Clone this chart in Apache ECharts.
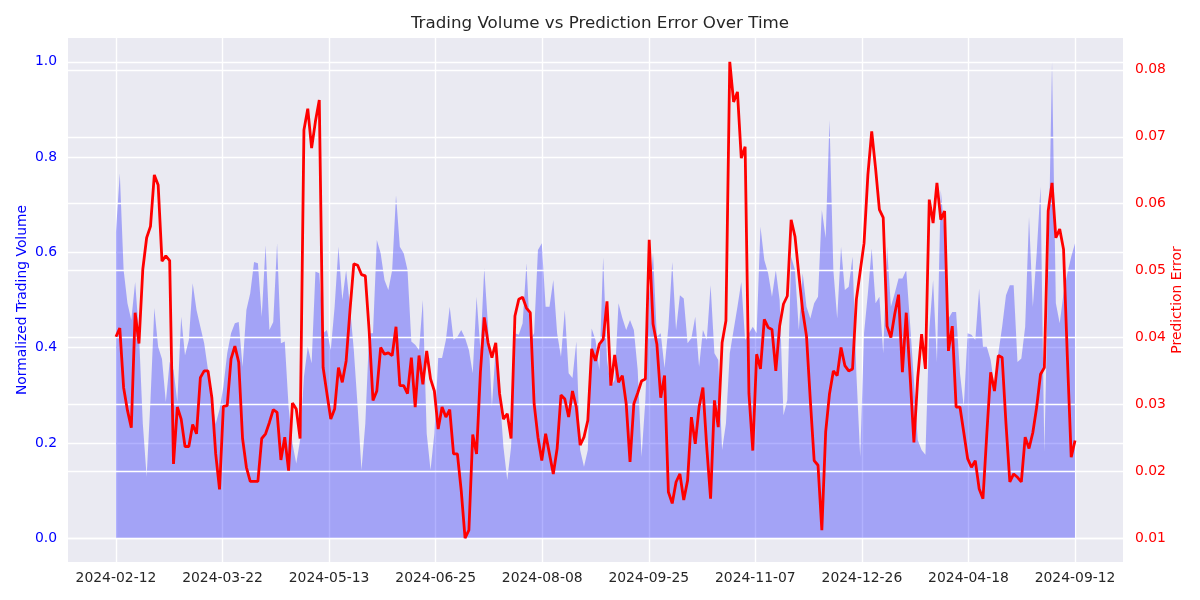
<!DOCTYPE html>
<html>
<head>
<meta charset="utf-8">
<script src="https://cdn.jsdelivr.net/npm/echarts@6/dist/echarts.min.js"></script>
<style>html,body{margin:0;padding:0;background:#fff;}#chart{width:1200px;height:600px;}</style>
</head>
<body>
<div id="chart"></div>
<script>
// x tick labels (shown at evenly spaced positions along the sample index)
const tickLabels = ['2024-02-12','2024-03-22','2024-05-13','2024-06-25','2024-08-08','2024-09-25','2024-11-07','2024-12-26','2024-04-18','2024-09-12'];
const leftTicks = [0, 0.2, 0.4, 0.6, 0.8, 1.0];
const rightTicks = [0.01, 0.02, 0.03, 0.04, 0.05, 0.06, 0.07, 0.08];

// Normalized trading volume (left axis)
const volume = [
0.643,0.766,0.563,0.493,0.458,0.538,0.430,0.241,0.129,0.290,
0.483,0.402,0.376,0.286,0.370,0.353,0.286,0.465,0.384,0.416,
0.535,0.479,0.444,0.409,0.353,0.290,0.240,0.270,0.318,0.388,
0.430,0.451,0.454,0.360,0.479,0.514,0.580,0.577,0.465,0.615,
0.437,0.454,0.619,0.409,0.413,0.276,0.199,0.157,0.206,0.339,
0.402,0.367,0.560,0.556,0.430,0.437,0.395,0.486,0.612,0.500,
0.563,0.486,0.395,0.276,0.143,0.241,0.430,0.430,0.626,0.598,
0.542,0.521,0.563,0.720,0.612,0.598,0.563,0.413,0.406,0.395,
0.500,0.220,0.143,0.220,0.378,0.378,0.416,0.486,0.416,0.423,
0.437,0.420,0.395,0.346,0.507,0.395,0.567,0.444,0.276,0.402,
0.304,0.192,0.122,0.192,0.430,0.427,0.451,0.577,0.416,0.430,
0.605,0.619,0.486,0.486,0.542,0.430,0.381,0.479,0.346,0.336,
0.413,0.185,0.150,0.185,0.440,0.416,0.353,0.590,0.374,0.318,
0.332,0.493,0.462,0.437,0.458,0.437,0.353,0.171,0.290,0.514,
0.598,0.423,0.430,0.357,0.444,0.580,0.437,0.510,0.503,0.409,
0.420,0.465,0.360,0.437,0.416,0.531,0.388,0.374,0.185,0.241,
0.388,0.437,0.486,0.538,0.416,0.430,0.444,0.430,0.654,0.584,
0.556,0.507,0.563,0.500,0.258,0.290,0.591,0.563,0.437,0.556,
0.486,0.461,0.493,0.507,0.689,0.630,0.878,0.563,0.461,0.612,
0.521,0.528,0.591,0.346,0.171,0.430,0.514,0.608,0.493,0.507,
0.388,0.612,0.486,0.514,0.545,0.545,0.563,0.451,0.332,0.206,
0.185,0.175,0.437,0.542,0.370,0.731,0.640,0.461,0.475,0.475,
0.346,0.276,0.430,0.427,0.416,0.524,0.402,0.402,0.374,0.318,
0.388,0.444,0.510,0.531,0.531,0.370,0.377,0.444,0.675,0.486,
0.598,0.738,0.181,0.556,1.000,0.493,0.451,0.514,0.556,0.591,
0.619
];

// Prediction error (right axis)
const predError = [
0.0401,0.0414,0.0325,0.0291,0.0265,0.0437,0.0391,0.0502,0.0549,0.0566,
0.0643,0.0628,0.0514,0.0522,0.0515,0.0211,0.0296,0.0278,0.0237,0.0237,
0.0270,0.0256,0.0340,0.0350,0.0350,0.0310,0.0226,0.0173,0.0297,0.0298,
0.0368,0.0387,0.0363,0.0249,0.0206,0.0185,0.0185,0.0185,0.0249,0.0256,
0.0273,0.0292,0.0288,0.0217,0.0251,0.0201,0.0302,0.0293,0.0249,0.0710,
0.0742,0.0683,0.0723,0.0755,0.0355,0.0316,0.0278,0.0293,0.0355,0.0333,
0.0365,0.0440,0.0510,0.0508,0.0494,0.0492,0.0410,0.0306,0.0320,0.0385,
0.0375,0.0377,0.0373,0.0416,0.0328,0.0328,0.0316,0.0370,0.0296,0.0373,
0.0330,0.0380,0.0338,0.0320,0.0263,0.0296,0.0281,0.0292,0.0226,0.0226,
0.0171,0.0100,0.0112,0.0255,0.0226,0.0348,0.0430,0.0392,0.0370,0.0392,
0.0316,0.0278,0.0286,0.0249,0.0432,0.0457,0.0460,0.0444,0.0437,0.0301,
0.0251,0.0216,0.0256,0.0226,0.0196,0.0234,0.0314,0.0308,0.0281,0.0320,
0.0296,0.0239,0.0251,0.0276,0.0383,0.0365,0.0390,0.0397,0.0454,0.0328,
0.0374,0.0333,0.0343,0.0301,0.0214,0.0301,0.0317,0.0335,0.0338,0.0546,
0.0420,0.0390,0.0310,0.0343,0.0169,0.0152,0.0184,0.0196,0.0157,0.0186,
0.0281,0.0241,0.0296,0.0325,0.0236,0.0159,0.0306,0.0266,0.0392,0.0425,
0.0812,0.0752,0.0767,0.0668,0.0685,0.0316,0.0231,0.0375,0.0353,0.0427,
0.0415,0.0412,0.0350,0.0417,0.0450,0.0462,0.0576,0.0551,0.0494,0.0440,
0.0402,0.0306,0.0216,0.0209,0.0112,0.0259,0.0316,0.0350,0.0343,0.0385,
0.0358,0.0350,0.0353,0.0457,0.0499,0.0541,0.0643,0.0708,0.0653,0.0591,
0.0579,0.0417,0.0400,0.0435,0.0464,0.0348,0.0437,0.0343,0.0243,0.0340,
0.0405,0.0353,0.0606,0.0571,0.0631,0.0576,0.0589,0.0380,0.0417,0.0296,
0.0296,0.0258,0.0219,0.0206,0.0216,0.0174,0.0159,0.0256,0.0348,0.0320,
0.0373,0.0370,0.0271,0.0184,0.0196,0.0191,0.0184,0.0251,0.0234,0.0258,
0.0296,0.0345,0.0355,0.0589,0.0631,0.0549,0.0562,0.0532,0.0370,0.0221,
0.0246
];

const FONT = 'DejaVu Sans';
const TEXT = '#262626';
const n = volume.length;
const step = (n - 1) / (tickLabels.length - 1);
const xTickValues = tickLabels.map((_, k) => k * step);
const pad = 0.05 * (n - 1);

function range(arr) {
  const mn = Math.min(...arr), mx = Math.max(...arr);
  const d = mx - mn;
  return [mn - 0.05 * d, mx + 0.05 * d];
}
const [eMin, eMax] = range(predError);
const [vMin, vMax] = range(volume.concat([0]));

const chart = echarts.init(document.getElementById('chart'), null, {renderer: 'canvas'});
chart.setOption({
  animation: false,
  backgroundColor: '#ffffff',
  title: {
    text: 'Trading Volume vs Prediction Error Over Time',
    left: 'center', top: 10,
    textStyle: {fontFamily: FONT, fontSize: 16.7, fontWeight: 'normal', color: TEXT}
  },
  grid: {left: 68, right: 77, top: 38, bottom: 38, show: true, backgroundColor: '#EAEAF2', borderWidth: 0},
  xAxis: {
    type: 'value', min: -pad, max: (n - 1) + pad, z: 1,
    axisLine: {show: false},
    axisTick: {show: false, customValues: xTickValues},
    axisLabel: {
      customValues: xTickValues,
      formatter: v => tickLabels[Math.round(v / step)],
      color: TEXT, fontFamily: FONT, fontSize: 13.9, margin: 9
    },
    splitLine: {show: true, lineStyle: {color: '#ffffff', width: 1.4}}
  },
  yAxis: [
    {
      type: 'value', position: 'left', min: vMin, max: vMax, z: 1,
      name: 'Normalized Trading Volume', nameLocation: 'middle', nameGap: 39, nameMoveOverlap: false,
      nameTextStyle: {color: '#0000ff', fontFamily: FONT, fontSize: 13.9},
      axisLine: {show: false},
      axisTick: {show: false, customValues: leftTicks},
      axisLabel: {customValues: leftTicks, formatter: v => v.toFixed(1), color: '#0000ff', fontFamily: FONT, fontSize: 13.9, margin: 11},
      splitLine: {show: true, lineStyle: {color: '#ffffff', width: 1.4}}
    },
    {
      type: 'value', position: 'right', min: eMin, max: eMax, z: 3,
      name: 'Prediction Error', nameLocation: 'middle', nameGap: 47, nameMoveOverlap: false,
      nameTextStyle: {color: '#ff0000', fontFamily: FONT, fontSize: 13.9},
      axisLine: {show: false},
      axisTick: {show: false, customValues: rightTicks},
      axisLabel: {customValues: rightTicks, formatter: v => v.toFixed(2), color: '#ff0000', fontFamily: FONT, fontSize: 13.9, margin: 12},
      splitLine: {show: true, lineStyle: {color: '#ffffff', width: 1.4}}
    }
  ],
  series: [
    {
      name: 'Normalized Volume', type: 'line', yAxisIndex: 0, z: 2,
      data: volume.map((v, i) => [i, v]),
      symbol: 'none', showSymbol: false,
      lineStyle: {width: 0, opacity: 0},
      areaStyle: {color: '#0000ff', opacity: 0.3, origin: 'auto'}
    },
    {
      name: 'Prediction Error', type: 'line', yAxisIndex: 1, z: 5,
      data: predError.map((v, i) => [i, v]),
      symbol: 'none', showSymbol: false,
      lineStyle: {color: '#ff0000', width: 2.8}
    }
  ]
});
</script>
</body>
</html>
